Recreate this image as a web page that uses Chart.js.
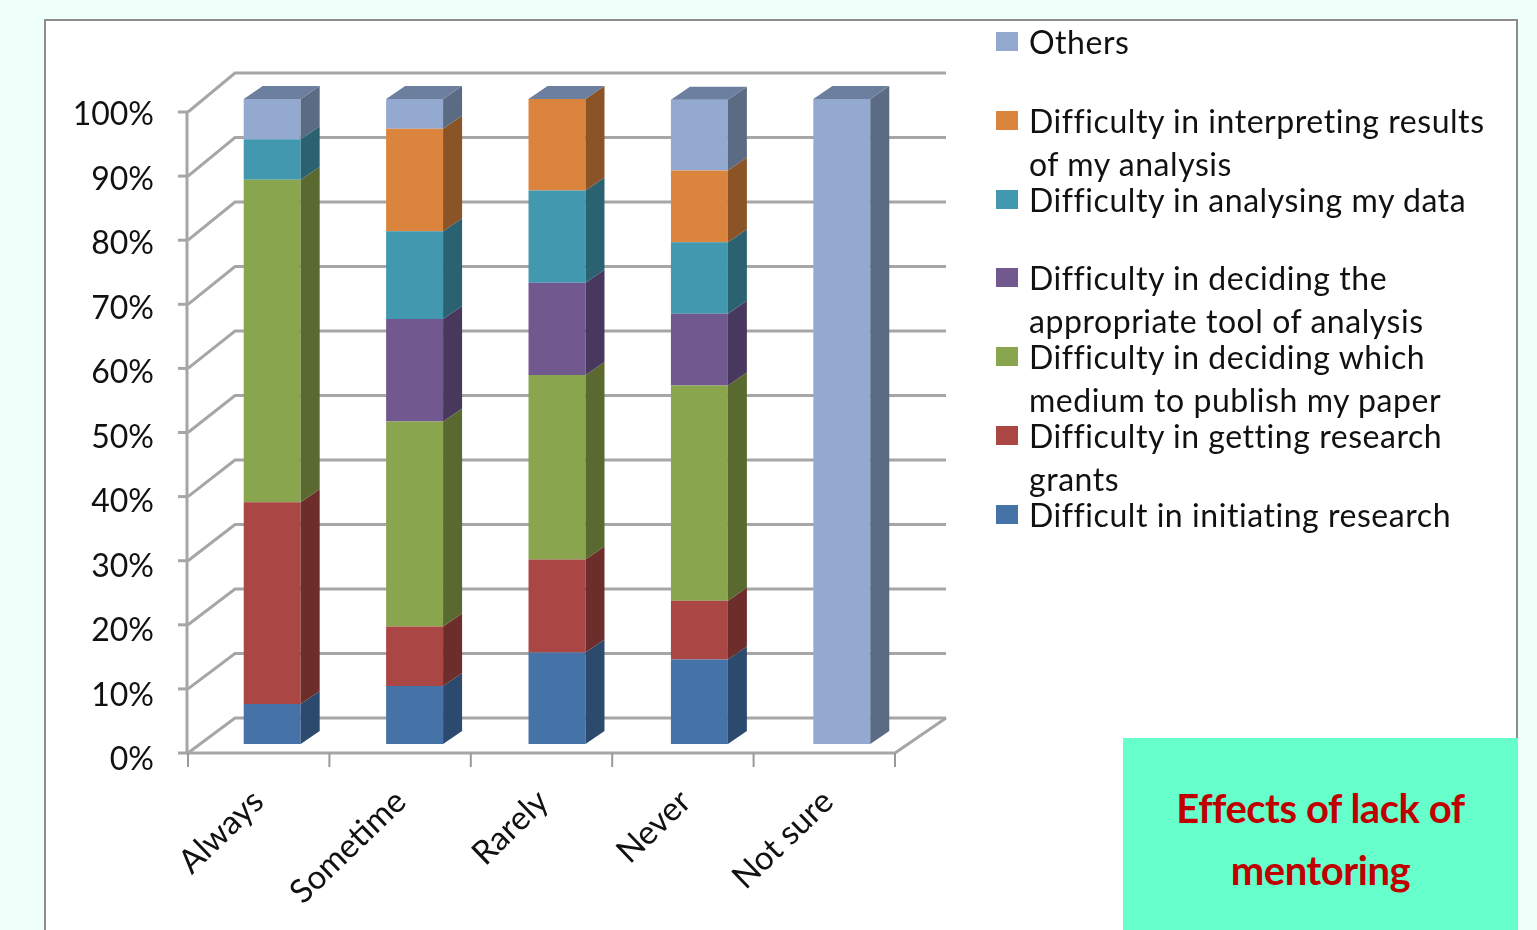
<!DOCTYPE html>
<html>
<head>
<title>Effects of lack of mentoring</title>
<script src="https://cdn.jsdelivr.net/npm/chart.js@4"></script>
<style>
html, body { margin:0; padding:0; width:1537px; height:930px; overflow:hidden; background:#EFFFFA; font-family:Lato, sans-serif; }
#panel { position:absolute; left:44px; top:19px; width:1470px; height:920px; background:#fff; border:2px solid #8c8c8c; }
#wrap { position:absolute; left:0; top:0; width:1537px; height:930px; }
#myChart { filter:blur(0.6px); }
#legend div.item { position:absolute; left:1029px; white-space:pre-line; font-size:32px; line-height:43px; letter-spacing:0.55px; color:#111; }
#legend div.box { position:absolute; left:996px; width:22px; height:19px; }
#note { position:absolute; left:1123px; top:738px; width:395px; height:192px; background:#66FFCC; color:#C00000; font-weight:bold; font-size:40px; line-height:62px; text-align:center; box-sizing:border-box; padding-top:39px; letter-spacing:-0.45px; }
</style>
</head>
<body>
<div id="panel"></div>
<div id="wrap"><canvas id="myChart" width="1537" height="930"></canvas></div>
<div id="legend"></div>
<div id="note">Effects of lack of<br>mentoring</div>

<script>
var categories = ["Always", "Sometime", "Rarely", "Never", "Not sure"];

var initiating = [6.2, 9, 14.2, 13.1, 0];
var grants     = [31.3, 9.2, 14.4, 9.1, 0];
var medium     = [50, 31.8, 28.6, 33.4, 0];
var tool       = [0, 15.9, 14.3, 11.1, 0];
var analysing  = [6.25, 13.6, 14.3, 11.1, 0];
var interpret  = [0, 15.9, 14.2, 11.1, 0];
var others     = [6.25, 4.6, 0, 11, 100];

// bottom of the stack first, the legend runs the other way
var names = [
    "Difficult in initiating research",
    "Difficulty in getting research\ngrants",
    "Difficulty in deciding which\nmedium to publish my paper",
    "Difficulty in deciding the\nappropriate tool of analysis",
    "Difficulty in analysing my data",
    "Difficulty in interpreting results\nof my analysis",
    "Others"
];
var series = [initiating, grants, medium, tool, analysing, interpret, others];
var colors = ["#4572A7", "#AA4643", "#89A54E", "#71588F", "#4198AF", "#DB843D", "#93A9CF"];
var sideColors = ["#2C4A6E", "#6C2D2B", "#59692F", "#49385E", "#2A6272", "#8A5426", "#5B6B83"];
var topColor = "#6D7F9F";

var depthX = 19, depthY = -13;   // how far the columns go back
var wallY = -26;                 // back wall relative to the front of the columns

// 3D look: walls behind the columns, sides and caps on top of them
var walls = {
    id: "walls",
    beforeDatasetsDraw: function(chart) {
        var c = chart.ctx, y = chart.scales.y;
        var gx = 188, bx = 235, rx = 946;
        c.save();
        c.lineWidth = 3;
        c.strokeStyle = "#A6A6A6";
        y.ticks.forEach(function(t) {
            var p = y.getPixelForValue(t.value);
            var fy = p + 9 + t.value * 0.04;
            c.beginPath();
            c.moveTo(gx, fy);
            c.lineTo(bx, p + wallY);
            c.lineTo(rx, p + wallY);
            c.stroke();
            // tick on the left axis
            c.beginPath();
            c.moveTo(178, fy);
            c.lineTo(gx, fy);
            c.stroke();
        });
        var base = y.getPixelForValue(0);
        var topFront = y.getPixelForValue(100) + 13;
        c.beginPath();
        c.moveTo(187, topFront);
        c.lineTo(187, base + 9);
        c.lineTo(895, base + 9);
        c.lineTo(rx, base + wallY);
        c.stroke();
        // ticks under the floor
        c.lineWidth = 2;
        c.strokeStyle = "#999";
        for (var i = 0; i <= categories.length; i++) {
            var tx = gx + i * (895 - gx) / categories.length;
            c.beginPath();
            c.moveTo(tx, base + 9);
            c.lineTo(tx, base + 23);
            c.stroke();
        }
        c.restore();
    },
    afterDatasetsDraw: function(chart) {
        var c = chart.ctx;
        c.save();
        chart.data.datasets.forEach(function(ds, d) {
            chart.getDatasetMeta(d).data.forEach(function(el, i) {
                if (!ds.data[i]) return;
                var r = el.x + el.width / 2;
                c.fillStyle = sideColors[d];
                c.beginPath();
                c.moveTo(r, el.base);
                c.lineTo(r + depthX, el.base + depthY);
                c.lineTo(r + depthX, el.y + depthY);
                c.lineTo(r, el.y);
                c.closePath();
                c.fill();
            });
        });
        // cap of every column
        chart.getDatasetMeta(series.length - 1).data.forEach(function(el) {
            var l = el.x - el.width / 2, r = el.x + el.width / 2;
            c.fillStyle = topColor;
            c.beginPath();
            c.moveTo(l, el.y);
            c.lineTo(l + depthX, el.y + depthY);
            c.lineTo(r + depthX, el.y + depthY);
            c.lineTo(r, el.y);
            c.closePath();
            c.fill();
        });
        c.restore();
    }
};

var datasets = [];
for (var i = 0; i < series.length; i++) {
    datasets.push({
        label: names[i].replace("\n", " "),
        data: series[i],
        backgroundColor: colors[i],
        borderWidth: 0,
        barPercentage: 0.4,
        categoryPercentage: 1
    });
}

var ctx = document.getElementById("myChart").getContext("2d");
var chart = new Chart(ctx, {
    type: "bar",
    data: { labels: categories, datasets: datasets },
    plugins: [walls],
    options: {
        responsive: false,
        animation: false,
        layout: { padding: { left: 0, right: 624, top: 99, bottom: 0 } },
        plugins: { legend: { display: false }, tooltip: { enabled: false } },
        scales: {
            x: {
                stacked: true,
                grid: { display: false, drawTicks: false },
                border: { display: false },
                afterFit: function(s) { s.height = 186; },
                ticks: {
                    minRotation: 44, maxRotation: 44,
                    autoSkip: false,
                    padding: 38,
                    labelOffset: -14,
                    color: "#111",
                    font: { family: "Lato", size: 33 }
                }
            },
            y: {
                stacked: true,
                min: 0, max: 100,
                grid: { display: false, drawTicks: false },
                border: { display: false },
                afterFit: function(s) { s.width = 201; },
                ticks: {
                    stepSize: 10,
                    padding: 47,
                    labelOffset: 16,
                    color: "#111",
                    font: { family: "Lato", size: 32 },
                    callback: function(v) { return v + "%"; }
                }
            }
        }
    }
});

// legend, top to bottom
var legend = document.getElementById("legend");
for (var k = series.length - 1, row = 0; k >= 0; k--, row++) {
    var cy = 42 + row * 78.8;
    var box = document.createElement("div");
    box.className = "box";
    box.style.top = (cy - 10) + "px";
    box.style.background = colors[k];
    var item = document.createElement("div");
    item.className = "item";
    item.style.top = (cy - 22) + "px";
    item.textContent = names[k];
    legend.appendChild(box);
    legend.appendChild(item);
}
</script>
</body>
</html>
